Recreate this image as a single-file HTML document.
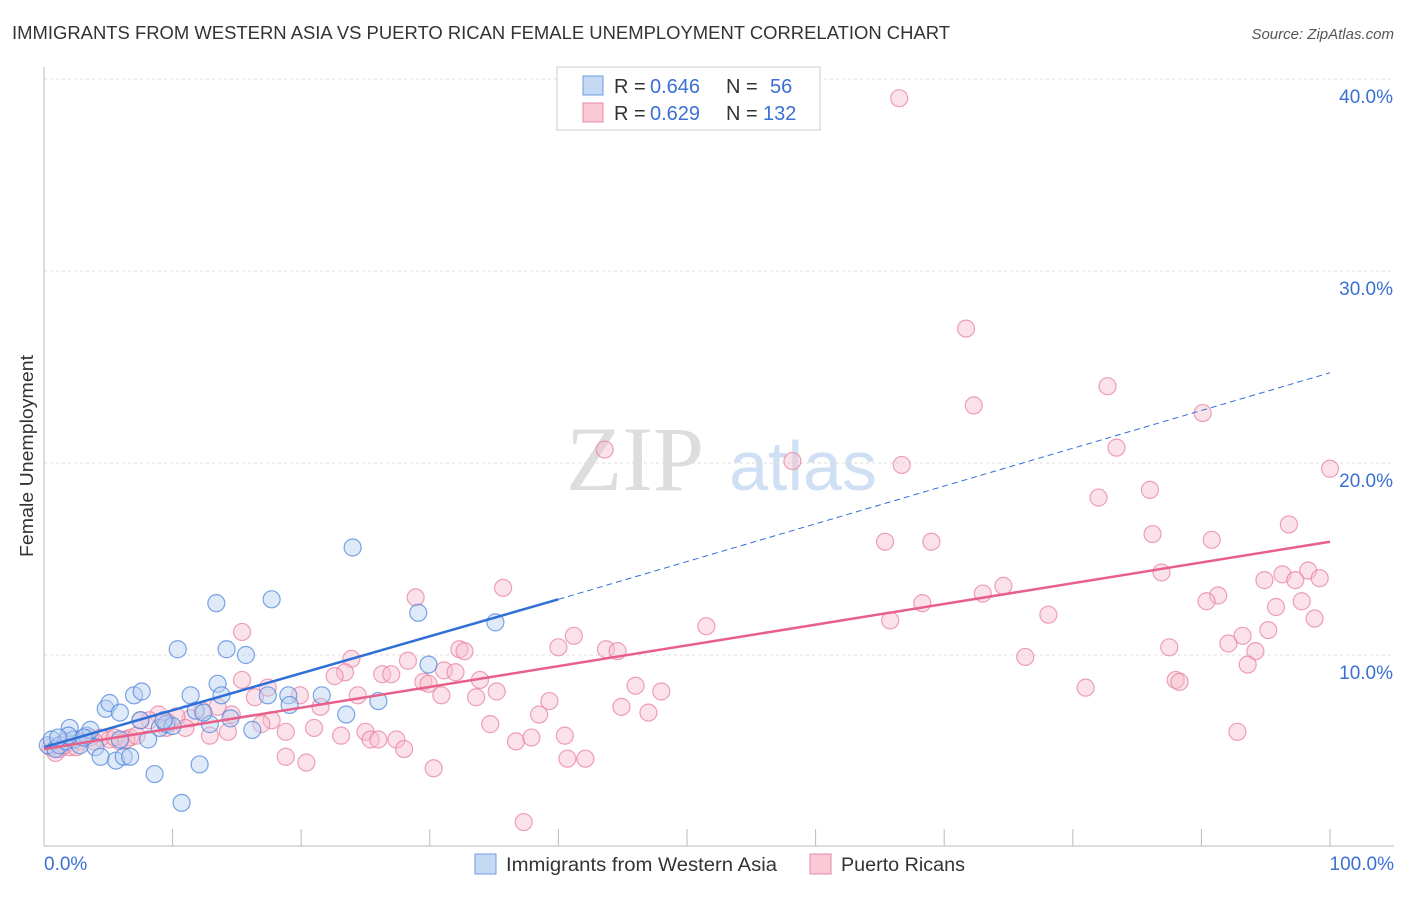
<!DOCTYPE html>
<html><head><meta charset="utf-8"><style>
body{margin:0;background:#fff;font-family:"Liberation Sans",sans-serif}
svg text{font-family:"Liberation Sans",sans-serif}
</style></head><body>
<svg id="chart" width="1406" height="892" xmlns="http://www.w3.org/2000/svg">
<text x="12" y="39" font-size="18" fill="#333" textLength="938" lengthAdjust="spacingAndGlyphs">IMMIGRANTS FROM WESTERN ASIA VS PUERTO RICAN FEMALE UNEMPLOYMENT CORRELATION CHART</text>
<text x="1394" y="39" font-size="15" fill="#555" font-style="italic" text-anchor="end">Source: ZipAtlas.com</text>
<text x="33" y="456" font-size="18" fill="#333" text-anchor="middle" textLength="202" lengthAdjust="spacingAndGlyphs" transform="rotate(-90 33 456)">Female Unemployment</text>
<g>
<text x="635" y="490" font-size="92" fill="#ddd" text-anchor="middle" font-family="Liberation Serif" style="font-family:'Liberation Serif',serif">ZIP</text>
<text x="803" y="490" font-size="70" fill="#cfe0f4" text-anchor="middle">atlas</text>
</g>
<g id="grid"></g><g id="axes"></g><g id="pts"></g><g id="lines"></g>
<g>
<rect x="557" y="67" width="263" height="63" fill="#fff" stroke="#ccc"/>
<rect x="583" y="76" width="20" height="19" fill="#c5d9f5" stroke="#6a9de0"/>
<rect x="583" y="103" width="20" height="19" fill="#f9c9d6" stroke="#e88aa7"/>
<g font-size="20">
<text x="614" y="93" fill="#333">R =</text><text x="650" y="93" fill="#3b6fd4">0.646</text>
<text x="726" y="93" fill="#333">N =</text><text x="770" y="93" fill="#3b6fd4">56</text></g>
<g font-size="20">
<text x="614" y="120" fill="#333">R =</text><text x="650" y="120" fill="#3b6fd4">0.629</text>
<text x="726" y="120" fill="#333">N =</text><text x="763" y="120" fill="#3b6fd4">132</text></g>
</g>
<g>
<rect x="475" y="854" width="21" height="20" fill="#c5d9f5" stroke="#6a9de0"/>
<text x="506" y="871" font-size="19" fill="#333" textLength="271" lengthAdjust="spacingAndGlyphs">Immigrants from Western Asia</text>
<rect x="810" y="854" width="21" height="20" fill="#f9c9d6" stroke="#e88aa7"/>
<text x="841" y="871" font-size="19" fill="#333" textLength="124" lengthAdjust="spacingAndGlyphs">Puerto Ricans</text>
</g>
</svg>
<script>
const blueX=[0.3,0.6,0.9,1.2,1.7,2.0,2.3,2.8,3.3,3.6,4.0,4.4,4.8,5.1,5.6,5.9,6.2,6.7,7.0,7.6,8.1,8.6,9.0,9.5,10.0,10.4,10.7,11.4,11.8,12.1,12.9,13.4,13.5,13.8,14.2,14.5,15.7,16.2,17.4,17.7,19.0,19.1,21.6,23.5,24.0,26.0,29.1,29.9,35.1,1.9,3.1,1.1,7.5,9.3,12.4,5.9];
const blueY=[5.3,5.6,5.1,5.3,5.5,6.2,5.6,5.3,5.8,6.1,5.2,4.7,7.2,7.5,4.5,7.0,4.7,4.7,7.9,8.1,5.6,3.8,6.2,6.4,6.3,10.3,2.3,7.9,7.1,4.3,6.4,12.7,8.5,7.9,10.3,6.7,10.0,6.1,7.9,12.9,7.9,7.4,7.9,6.9,15.6,7.6,12.2,9.5,11.7,5.8,5.7,5.7,6.6,6.6,7.0,5.6];
const pinkX=[66.5,71.7,72.3,82.7,90.1,83.4,43.6,58.2,66.7,100,86.0,82.0,96.8,65.4,69.0,86.2,90.8,86.9,98.3,96.3,94.9,97.3,99.2,74.6,73.0,91.3,90.4,97.8,95.8,68.3,65.8,78.1,98.8,95.2,93.2,92.1,94.2,87.5,93.6,76.3,81.0,88.0,88.3,92.8,35.7,28.9,41.2,40.0,43.7,44.6,51.5,32.3,32.7,23.9,28.3,23.4,22.6,26.3,27.0,31.1,32.0,33.9,29.5,29.9,46.0,48.0,35.2,30.9,24.4,33.6,39.3,44.9,47.0,38.5,17.4,19.9,21.5,16.4,15.4,15.4,17.7,14.6,13.5,12.3,11.4,10.3,9.6,8.9,8.2,7.5,6.7,5.9,5.1,4.4,3.6,2.8,2.0,1.2,0.5,0.9,1.6,2.5,3.9,5.5,6.4,7.2,9.5,12.9,14.3,18.8,21.0,23.1,25.0,25.4,26.0,27.4,28.0,18.8,20.4,30.3,34.7,36.7,37.9,40.5,40.7,42.1,37.3,11.0,16.9];
const pinkY=[39.0,27.0,23.0,24.0,22.6,20.8,20.7,20.1,19.9,19.7,18.6,18.2,16.8,15.9,15.9,16.3,16.0,14.3,14.4,14.2,13.9,13.9,14.0,13.6,13.2,13.1,12.8,12.8,12.5,12.7,11.8,12.1,11.9,11.3,11.0,10.6,10.2,10.4,9.5,9.9,8.3,8.7,8.6,6.0,13.5,13.0,11.0,10.4,10.3,10.2,11.5,10.3,10.2,9.8,9.7,9.1,8.9,9.0,9.0,9.2,9.1,8.7,8.6,8.5,8.4,8.1,8.1,7.9,7.9,7.8,7.6,7.3,7.0,6.9,8.3,7.9,7.3,7.8,8.7,11.2,6.6,6.9,7.3,7.1,6.7,6.8,6.5,6.9,6.6,6.6,5.7,5.5,5.6,5.7,5.7,5.5,5.2,5.1,5.2,4.9,5.3,5.2,5.5,5.7,5.6,5.8,6.2,5.8,6.0,6.0,6.2,5.8,6.0,5.6,5.6,5.6,5.1,4.7,4.4,4.1,6.4,5.5,5.7,5.8,4.6,4.6,1.3,6.2,6.4];
const blueLine=[0,5.2,40,12.9,100,24.7];
const pinkLine=[0,5.1,100,15.9];
const yTicks=[10,20,30,40];
const yTickLabels=["10.0%","20.0%","30.0%","40.0%"];
const xTickLabels=["0.0%","100.0%"];
const X=v=>44+v*12.86, Y=v=>847-v*19.2;
const NS="http://www.w3.org/2000/svg";
function mk(t,a,p){const e=document.createElementNS(NS,t);for(const k in a)e.setAttribute(k,a[k]);p.appendChild(e);return e;}
const grid=document.getElementById('grid'),axes=document.getElementById('axes'),pts=document.getElementById('pts'),lines=document.getElementById('lines');
yTicks.forEach((t,i)=>{
 const l=mk('line',{x1:44,x2:1394,y1:Y(t),y2:Y(t),stroke:'#ddd','stroke-dasharray':'3,3'},grid);
 
 
 const tx=mk('text',{x:1393,y:Y(t)+24,'font-size':19,fill:'#3b6fd4','text-anchor':'end'},axes);
 tx.textContent=yTickLabels[i];
 
 
});
let a=mk('line',{x1:44,x2:44,y1:67,y2:846,stroke:'#bbb'},axes);


a=mk('line',{x1:44,x2:1394,y1:846,y2:846,stroke:'#bbb'},axes);


for(let i=0;i<=10;i++){const t=mk('line',{x1:X(i*10),x2:X(i*10),y1:829,y2:846,stroke:'#bbb'},axes);
 
 }
[[0,'start',44],[100,'end',1394]].forEach((d,i)=>{const t=mk('text',{x:d[2],y:870,'font-size':19,fill:'#3b6fd4','text-anchor':d[1]},axes);t.textContent=xTickLabels[i];
 
 });
function dots(xs,ys,fill,stroke,name){xs.forEach((x,i)=>{const c=mk('circle',{cx:X(x),cy:Y(ys[i]),r:8.5,fill:fill,'fill-opacity':0.45,stroke:stroke,'stroke-opacity':0.75,'stroke-width':1.2},pts);
 
 });}
dots(pinkX,pinkY,'#f7bfd0','#e8819f','pink-point');
dots(blueX,blueY,'#b7d0f2','#4f86dc','blue-point');
let l=mk('line',{x1:X(blueLine[0]),y1:Y(blueLine[1]),x2:X(blueLine[2]),y2:Y(blueLine[3]),stroke:'#2f6fd6','stroke-width':2.5},lines);


l=mk('line',{x1:X(blueLine[2]),y1:Y(blueLine[3]),x2:X(blueLine[4]),y2:Y(blueLine[5]),stroke:'#2f6fd6','stroke-width':1,'stroke-dasharray':'6,4'},lines);


l=mk('line',{x1:X(pinkLine[0]),y1:Y(pinkLine[1]),x2:X(pinkLine[2]),y2:Y(pinkLine[3]),stroke:'#e8608a','stroke-width':2.5},lines);


</script>
</body></html>
